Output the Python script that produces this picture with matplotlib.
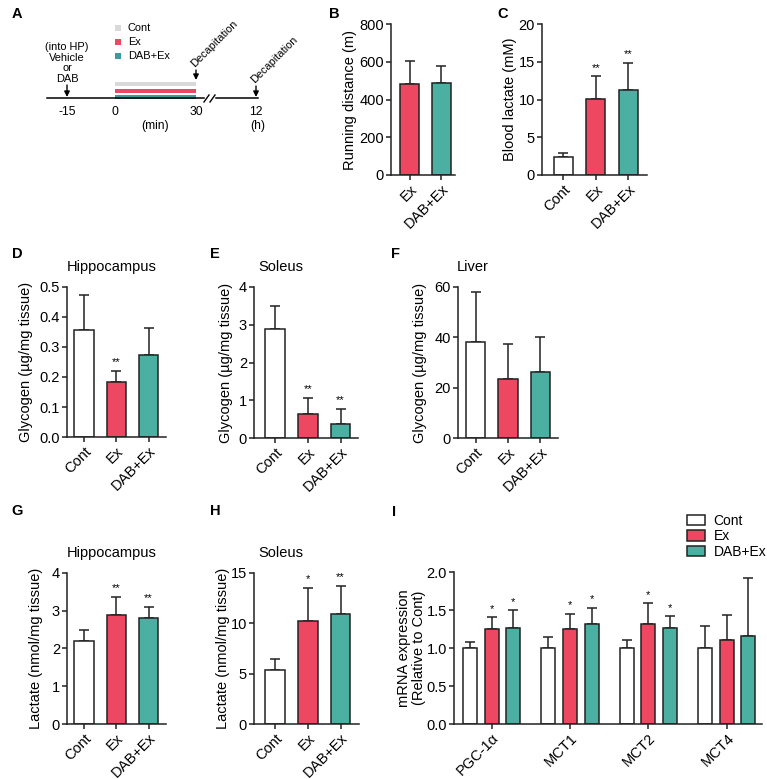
import matplotlib
matplotlib.use('Agg')
import matplotlib.pyplot as plt
from matplotlib.patches import Rectangle, Patch
import numpy as np

plt.rcParams['font.family'] = ['Liberation Sans', 'DejaVu Sans']

W, H = 767, 779
RED = '#EE4762'
TEAL = '#4BB0A2'
TEAL_A = '#3E9A9C'
GRAY_A = '#D9D9D9'
WHITE = '#FFFFFF'
EDGE = '#222222'

# ---------------- data ----------------
groups3 = ['Cont', 'Ex', 'DAB+Ex']
colors3 = [WHITE, RED, TEAL]

b_cats = ['Ex', 'DAB+Ex']
b_mean = [483, 487]
b_sd = [120, 90]

c_mean = [2.4, 10.1, 11.2]
c_sd = [0.5, 3.0, 3.7]
c_stars = ['', '**', '**']

d_mean = [0.356, 0.182, 0.275]
d_sd = [0.118, 0.038, 0.089]
d_stars = ['', '**', '']

e_mean = [2.89, 0.63, 0.38]
e_sd = [0.61, 0.43, 0.40]
e_stars = ['', '**', '**']

f_mean = [38.1, 23.4, 26.3]
f_sd = [19.8, 14.1, 13.8]
f_stars = ['', '', '']

g_mean = [2.19, 2.87, 2.79]
g_sd = [0.29, 0.50, 0.31]
g_stars = ['', '**', '**']

h_mean = [5.36, 10.2, 10.9]
h_sd = [1.12, 3.3, 2.8]
h_stars = ['', '*', '**']

genes = ['PGC-1α', 'MCT1', 'MCT2', 'MCT4']
i_cont = [1.0, 1.0, 1.0, 1.0]
i_cont_sd = [0.08, 0.15, 0.11, 0.29]
i_ex = [1.25, 1.25, 1.32, 1.11]
i_ex_sd = [0.16, 0.20, 0.27, 0.33]
i_dab = [1.265, 1.32, 1.27, 1.16]
i_dab_sd = [0.235, 0.21, 0.15, 0.76]
i_cont_stars = ['', '', '', '']
i_ex_stars = ['*', '*', '*', '']
i_dab_stars = ['*', '*', '*', '']

# timeline schematic (panel A)
a_ticks = ['-15', '0', '30', '12']
a_legend = ['Cont', 'Ex', 'DAB+Ex']
a_colors = [GRAY_A, RED, TEAL_A]

fig = plt.figure(figsize=(W / 100, H / 100), dpi=100)


def px_axes(l, r, t, b):
    return fig.add_axes([l / W, 1 - b / H, (r - l) / W, (b - t) / H])


def style(ax):
    for s in ['top', 'right']:
        ax.spines[s].set_visible(False)
    for s in ['left', 'bottom']:
        ax.spines[s].set_linewidth(1.1)
        ax.spines[s].set_color(EDGE)
    ax.tick_params(axis='both', colors=EDGE, width=1.1, length=3.5, pad=1.5,
                   labelsize=10.5, labelcolor='black')
    ax.tick_params(axis='x', labelsize=10.5)


def stars_at(ax, xs, tops, stars):
    for x, t, s in zip(xs, tops, stars):
        if s:
            ax.annotate(s, (x, t), xytext=(0, 2.5), textcoords='offset points',
                        ha='center', va='bottom', fontsize=8)


def bar_panel(rect, cats, means, sds, colors, ymax, yticks, fmt, ylabel,
              ylab_px, xlim, width, stars=None):
    l, r, t, b = rect
    ax = px_axes(l, r, t, b)
    x = np.arange(len(cats))
    ax.errorbar(x, means, yerr=[np.zeros(len(sds)), sds], fmt='none',
                ecolor=EDGE, elinewidth=1.1, capsize=3.3, capthick=1.1, zorder=1)
    ax.bar(x, means, width, color=colors, edgecolor=EDGE, linewidth=1.1, zorder=2)
    ax.set_ylim(0, ymax)
    ax.set_yticks(yticks)
    ax.set_yticklabels([fmt.format(v) for v in yticks])
    ax.set_xlim(*xlim)
    ax.set_xticks(x)
    ax.set_xticklabels(cats, rotation=45, ha='right', rotation_mode='anchor')
    style(ax)
    ax.set_ylabel(ylabel, fontsize=10.5)
    ax.yaxis.set_label_coords((ylab_px - l) / (r - l), 0.5)
    if stars:
        stars_at(ax, x, np.array(means) + np.array(sds), stars)
    return ax


# ---------------- panel A ----------------
axA = fig.add_axes([0, 1 - 170 / H, 330 / W, 170 / H])
axA.set_xlim(0, 330)
axA.set_ylim(170, 0)
axA.axis('off')
axA.plot([47, 204], [98, 98], color='black', lw=1.1)
axA.plot([216, 258], [98, 98], color='black', lw=1.1)
axA.plot([204, 209], [102, 95], color='black', lw=1.0)
axA.plot([210, 215], [102, 95], color='black', lw=1.0)
for yb, c in zip([81.5, 88.5, 94.5], a_colors):
    axA.add_patch(Rectangle((115, yb), 81, 4, color=c, lw=0))
for i, (lab, c) in enumerate(zip(a_legend, a_colors)):
    y = 28 + i * 14
    axA.add_patch(Rectangle((115, y - 2.8), 6, 5.6, color=c, lw=0))
    axA.text(128, y, lab, fontsize=7.9, va='center', ha='left')
axA.text(67, 63, '(into HP)\nVehicle\nor\nDAB', fontsize=7.9, ha='center',
         va='center', linespacing=1.05)
arrow = dict(arrowstyle='-|>', color='black', lw=1.0, mutation_scale=8,
             shrinkA=0, shrinkB=0)
axA.annotate('', xy=(67, 97), xytext=(67, 85), arrowprops=arrow)
axA.annotate('', xy=(196, 80), xytext=(196, 70), arrowprops=arrow)
axA.annotate('', xy=(256, 97), xytext=(256, 86), arrowprops=arrow)
axA.text(193, 65, 'Decapitation', fontsize=7.9, rotation=45,
         rotation_mode='anchor', ha='left', va='center')
axA.text(253, 81, 'Decapitation', fontsize=7.9, rotation=45,
         rotation_mode='anchor', ha='left', va='center')
for xt, lab in zip([67, 115, 196, 256], a_ticks):
    axA.text(xt, 112, lab, fontsize=8.7, ha='center', va='center')
axA.text(155, 126, '(min)', fontsize=8.7, ha='center', va='center')
axA.text(258, 126, '(h)', fontsize=8.7, ha='center', va='center')

# ---------------- panels B-H ----------------
bar_panel((391, 455, 24, 175), b_cats, b_mean, b_sd, [RED, TEAL], 800,
          [0, 200, 400, 600, 800], '{:g}', 'Running distance (m)', 357,
          (-0.6, 1.43), 0.6)
bar_panel((542, 647, 24, 175), groups3, c_mean, c_sd, colors3, 20,
          [0, 5, 10, 15, 20], '{:g}', 'Blood lactate (mM)', 517,
          (-0.66, 2.57), 0.585, c_stars)
bar_panel((67, 166, 287, 437), groups3, d_mean, d_sd, colors3, 0.5,
          [0, 0.1, 0.2, 0.3, 0.4, 0.5], '{:.1f}', 'Glycogen (µg/mg tissue)', 33,
          (-0.53, 2.54), 0.6, d_stars)
bar_panel((254, 358, 287, 438), groups3, e_mean, e_sd, colors3, 4,
          [0, 1, 2, 3, 4], '{:g}', 'Glycogen (µg/mg tissue)', 233,
          (-0.64, 2.53), 0.6, e_stars)
bar_panel((458, 558, 287, 438), groups3, f_mean, f_sd, colors3, 60,
          [0, 20, 40, 60], '{:g}', 'Glycogen (µg/mg tissue)', 427,
          (-0.54, 2.54), 0.6, f_stars)
bar_panel((67, 166, 572.7, 724), groups3, g_mean, g_sd, colors3, 4,
          [0, 1, 2, 3, 4], '{:g}', 'Lactate (nmol/mg tissue)', 43,
          (-0.53, 2.54), 0.6, g_stars)
bar_panel((254, 359, 572.7, 724), groups3, h_mean, h_sd, colors3, 15,
          [0, 5, 10, 15], '{:g}', 'Lactate (nmol/mg tissue)', 230,
          (-0.64, 2.56), 0.6, h_stars)

# ---------------- panel I ----------------
l, r, t, b = 454, 762, 572.3, 724
axI = px_axes(l, r, t, b)
xg = np.arange(len(genes))
off = 0.277
wI = 0.18
series = [(i_cont, i_cont_sd, WHITE, 'Cont', i_cont_stars),
          (i_ex, i_ex_sd, RED, 'Ex', i_ex_stars),
          (i_dab, i_dab_sd, TEAL, 'DAB+Ex', i_dab_stars)]
handles = []
for k, (m, sd, c, lab, st) in enumerate(series):
    xs = xg + (k - 1) * off
    axI.errorbar(xs, m, yerr=[np.zeros(len(sd)), sd], fmt='none', ecolor=EDGE,
                 elinewidth=1.1, capsize=3.3, capthick=1.1, zorder=1)
    axI.bar(xs, m, wI, color=c, edgecolor=EDGE, linewidth=1.1, zorder=2)
    stars_at(axI, xs, np.array(m) + np.array(sd), st)
    handles.append(Patch(facecolor=c, edgecolor=EDGE, linewidth=1.1, label=lab))
axI.set_ylim(0, 2.0)
yt = [0, 0.5, 1.0, 1.5, 2.0]
axI.set_yticks(yt)
axI.set_yticklabels(['{:.1f}'.format(v) for v in yt])
axI.set_xlim(-0.48, 3.45)
axI.set_xticks(xg)
axI.set_xticklabels(genes, rotation=45, ha='right', rotation_mode='anchor')
style(axI)
axI.set_ylabel('mRNA expression\n(Relative to Cont)', fontsize=10.5, linespacing=1.1)
axI.yaxis.set_label_coords((426 - l) / (r - l), 0.5)
fig.legend(handles=handles, loc='upper left', bbox_to_anchor=(687 / W, 1 - 514 / H),
           frameon=False, fontsize=10, borderpad=0, borderaxespad=0,
           handlelength=1.3, handleheight=0.75, handletextpad=0.6, labelspacing=0.1)

# ---------------- titles and panel labels ----------------
for (xp, yp, s) in [(112, 267, 'Hippocampus'), (281, 267, 'Soleus'),
                    (473, 267, 'Liver'), (112, 553, 'Hippocampus'),
                    (281, 553, 'Soleus')]:
    fig.text(xp / W, 1 - yp / H, s, fontsize=10.5, ha='center', va='center')

for (xp, yp, s) in [(17, 14, 'A'), (334, 14, 'B'), (503, 14, 'C'),
                    (17, 254, 'D'), (215, 254, 'E'), (396, 254, 'F'),
                    (17, 511, 'G'), (215, 511, 'H'), (394, 512, 'I')]:
    fig.text(xp / W, 1 - yp / H, s, fontsize=10.5, fontweight='bold',
             ha='center', va='center')

fig.savefig('out.png', dpi=100, facecolor='white')
